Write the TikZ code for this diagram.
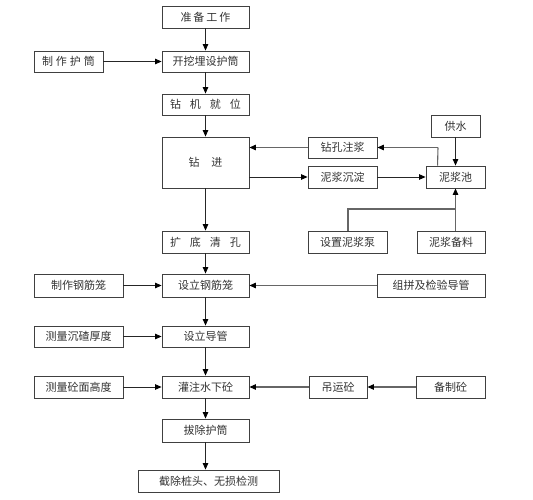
\documentclass[tikz,border=0pt]{standalone}
\usepackage{fontspec}
\setmainfont{Noto Sans CJK SC}
\usetikzlibrary{arrows.meta,calc}
\newcommand{\gp}[1]{\hspace{#1pt}}
\begin{document}
\begin{tikzpicture}[x=1pt,y=-1pt,
  box/.style={draw=black!75,line width=0.9pt,fill=white,inner sep=0pt,
    font=\fontsize{11}{12}\selectfont,text=black!80},
  arr/.style={draw=black!85,line width=0.8pt,-{Triangle[length=6.5pt,width=5.5pt,fill=black,color=black]}},
  garr/.style={draw=black!60,line width=1.1pt,-{Triangle[length=6.5pt,width=5.5pt,fill=black,color=black]}},
  gline/.style={draw=black!60,line width=1.1pt}]
\useasboundingbox (0,0) rectangle (533,500);
\fill[white] (0,0) rectangle (533,500);
% boxes
\node[box,minimum width=87pt,minimum height=22pt] (prep) at (205.5,17) {准\gp{2}备\gp{2}工\gp{2}作};
\node[box,minimum width=87pt,minimum height=21pt] (dig) at (205.5,61.5) {开挖埋设护筒};
\node[box,minimum width=69pt,minimum height=21pt] (mk) at (68.5,61.5) {制\gp{3}作\gp{3}护\gp{3}筒};
\node[box,minimum width=87pt,minimum height=21pt] (rig) at (205.5,104.5) {钻\gp{9}机\gp{9}就\gp{9}位};
\node[box,minimum width=87pt,minimum height=51pt] (drill) at (205.5,162.5) {钻\gp{12}进};
\node[box,minimum width=69pt,minimum height=21pt] (grout) at (342.5,147.5) {钻孔注浆};
\node[box,minimum width=69pt,minimum height=22pt] (settle) at (342.5,177) {泥浆沉淀};
\node[box,minimum width=49pt,minimum height=22pt] (water) at (455.5,126) {供水};
\node[box,minimum width=59pt,minimum height=22pt] (pool) at (455.5,177) {泥浆池};
\node[box,minimum width=79pt,minimum height=22pt] (pump) at (347.5,242) {设置泥浆泵};
\node[box,minimum width=68pt,minimum height=22pt] (mat) at (451,242) {泥浆备料};
\node[box,minimum width=87pt,minimum height=22pt] (clean) at (205.5,242) {扩\gp{9}底\gp{9}清\gp{9}孔};
\node[box,minimum width=89pt,minimum height=23pt] (cage0) at (78.5,285.5) {制作钢筋笼};
\node[box,minimum width=87pt,minimum height=23pt] (cage) at (205.5,285.5) {设立钢筋笼};
\node[box,minimum width=108pt,minimum height=23pt] (pipe0) at (431,285.5) {组拼及检验导管};
\node[box,minimum width=89pt,minimum height=21pt] (sed) at (78.5,336.5) {测量沉碴厚度};
\node[box,minimum width=87pt,minimum height=21pt] (pipe) at (205.5,336.5) {设立导管};
\node[box,minimum width=89pt,minimum height=22pt] (lvl) at (78.5,387) {测量砼面高度};
\node[box,minimum width=87pt,minimum height=22pt] (pour) at (205.5,387) {灌注水下砼};
\node[box,minimum width=58pt,minimum height=22pt] (lift) at (338,387) {吊运砼};
\node[box,minimum width=69pt,minimum height=22pt] (prepc) at (450.5,387) {备制砼};
\node[box,minimum width=87pt,minimum height=23pt] (pull) at (205.5,430.5) {拔除护筒};
\node[box,minimum width=141pt,minimum height=22pt] (cut) at (208.5,481) {截除桩头、无损检测};
% helper coordinates
\coordinate (poolout) at ($(pool.north west)+(12,0)$);
\coordinate (poolturn) at (438,147.5);
\coordinate (pumpout) at (348,231);
\coordinate (join) at (455.5,209);
\coordinate (matout) at (455.5,231);
% connectors
\draw[arr] (prep) -- (dig);
\draw[arr] (mk) -- (dig);
\draw[arr] (dig) -- (rig);
\draw[arr] (rig) -- (drill);
\draw[gline] (poolout) -- (poolturn);
\draw[garr] (poolturn) -- (grout.east);
\draw[garr] (grout.west) -- (grout.west -| drill.east);
\draw[arr] (drill.east |- settle.west) -- (settle.west);
\draw[arr] (settle.east) -- (settle.east -| pool.west);
\draw[arr] (water) -- (pool);
\draw[gline] (pumpout) |- (join);
\draw[garr] (matout) -- (pool.south);
\draw[arr] (drill) -- (clean);
\draw[arr] (clean) -- (cage);
\draw[arr] (cage0) -- (cage);
\draw[garr] (pipe0) -- (cage);
\draw[arr] (cage) -- (pipe);
\draw[arr] (sed) -- (pipe);
\draw[arr] (pipe) -- (pour);
\draw[arr] (lvl) -- (pour);
\draw[garr] (lift) -- (pour);
\draw[garr] (prepc) -- (lift);
\draw[arr] (pour) -- (pull);
\draw[arr] (pull.south) -- (pull.south |- cut.north);
\end{tikzpicture}
\end{document}
